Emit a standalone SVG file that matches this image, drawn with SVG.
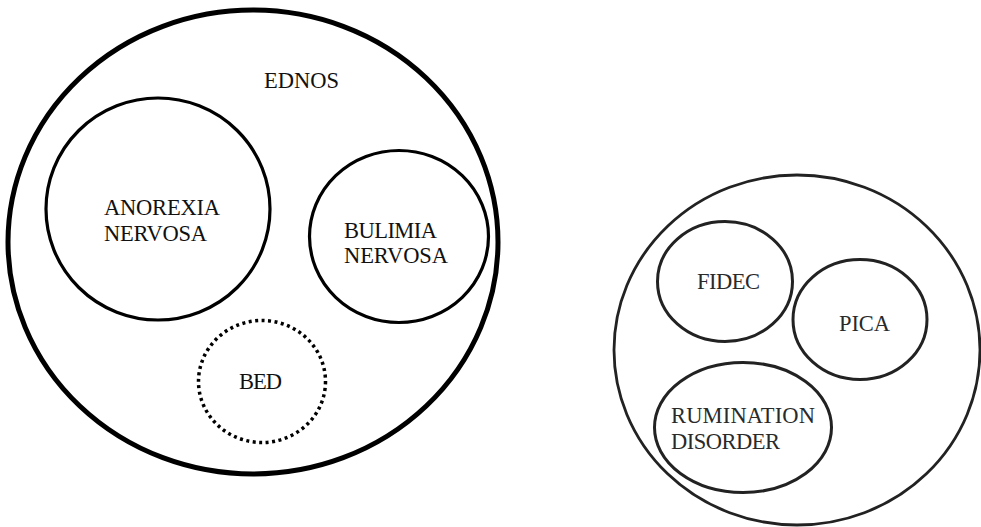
<svg xmlns="http://www.w3.org/2000/svg" width="981" height="527" viewBox="0 0 981 527">
  <style>
    .label { font-family: "Liberation Serif", "DejaVu Serif", serif; font-size: 22.5px; fill: #111; }
    .label2 { font-family: "Liberation Serif", "DejaVu Serif", serif; font-size: 22.5px; fill: #2a2a2a; }
    .outer { fill: none; stroke: #000; stroke-width: 5; }
    .inner { fill: none; stroke: #000; stroke-width: 3.2; }
    .dotted { fill: none; stroke: #000; stroke-width: 3.5; stroke-dasharray: 3 3.5; }
    .outer2 { fill: none; stroke: #222; stroke-width: 2.8; }
    .inner2 { fill: none; stroke: #222; stroke-width: 3; }
  </style>
  <rect width="981" height="527" fill="#fff"/>

  <!-- eating disorders group -->
  <g id="ednos">
    <ellipse class="outer" cx="253" cy="242" rx="245" ry="232"/>
    <text class="label" x="264" y="88" textLength="75">EDNOS</text>
  </g>
  <g id="anorexia">
    <ellipse class="inner" cx="158" cy="209" rx="112" ry="111"/>
    <text class="label" x="104" y="215" textLength="116">ANOREXIA</text>
    <text class="label" x="104" y="241" textLength="103">NERVOSA</text>
  </g>
  <g id="bulimia">
    <ellipse class="inner" cx="399" cy="236.5" rx="89.5" ry="86"/>
    <text class="label" x="344" y="238" textLength="93">BULIMIA</text>
    <text class="label" x="344" y="263" textLength="104">NERVOSA</text>
  </g>
  <g id="bed">
    <ellipse class="dotted" cx="262" cy="381.5" rx="63.5" ry="61"/>
    <text class="label" x="239" y="389" textLength="43">BED</text>
  </g>

  <!-- feeding disorders group -->
  <g id="feeding">
    <ellipse class="outer2" cx="797" cy="350" rx="183" ry="175"/>
  </g>
  <g id="fidec">
    <ellipse class="inner2" cx="725" cy="281.5" rx="67.5" ry="60"/>
    <text class="label2" x="697" y="289" textLength="63">FIDEC</text>
  </g>
  <g id="pica">
    <ellipse class="inner2" cx="860" cy="319.5" rx="67" ry="60"/>
    <text class="label2" x="839" y="331" textLength="51">PICA</text>
  </g>
  <g id="rumination">
    <ellipse class="inner2" cx="743" cy="427.5" rx="88.5" ry="65"/>
    <text class="label2" x="671" y="423" textLength="144">RUMINATION</text>
    <text class="label2" x="671" y="449" textLength="109">DISORDER</text>
  </g>

  <g id="connectors"/>
</svg>
